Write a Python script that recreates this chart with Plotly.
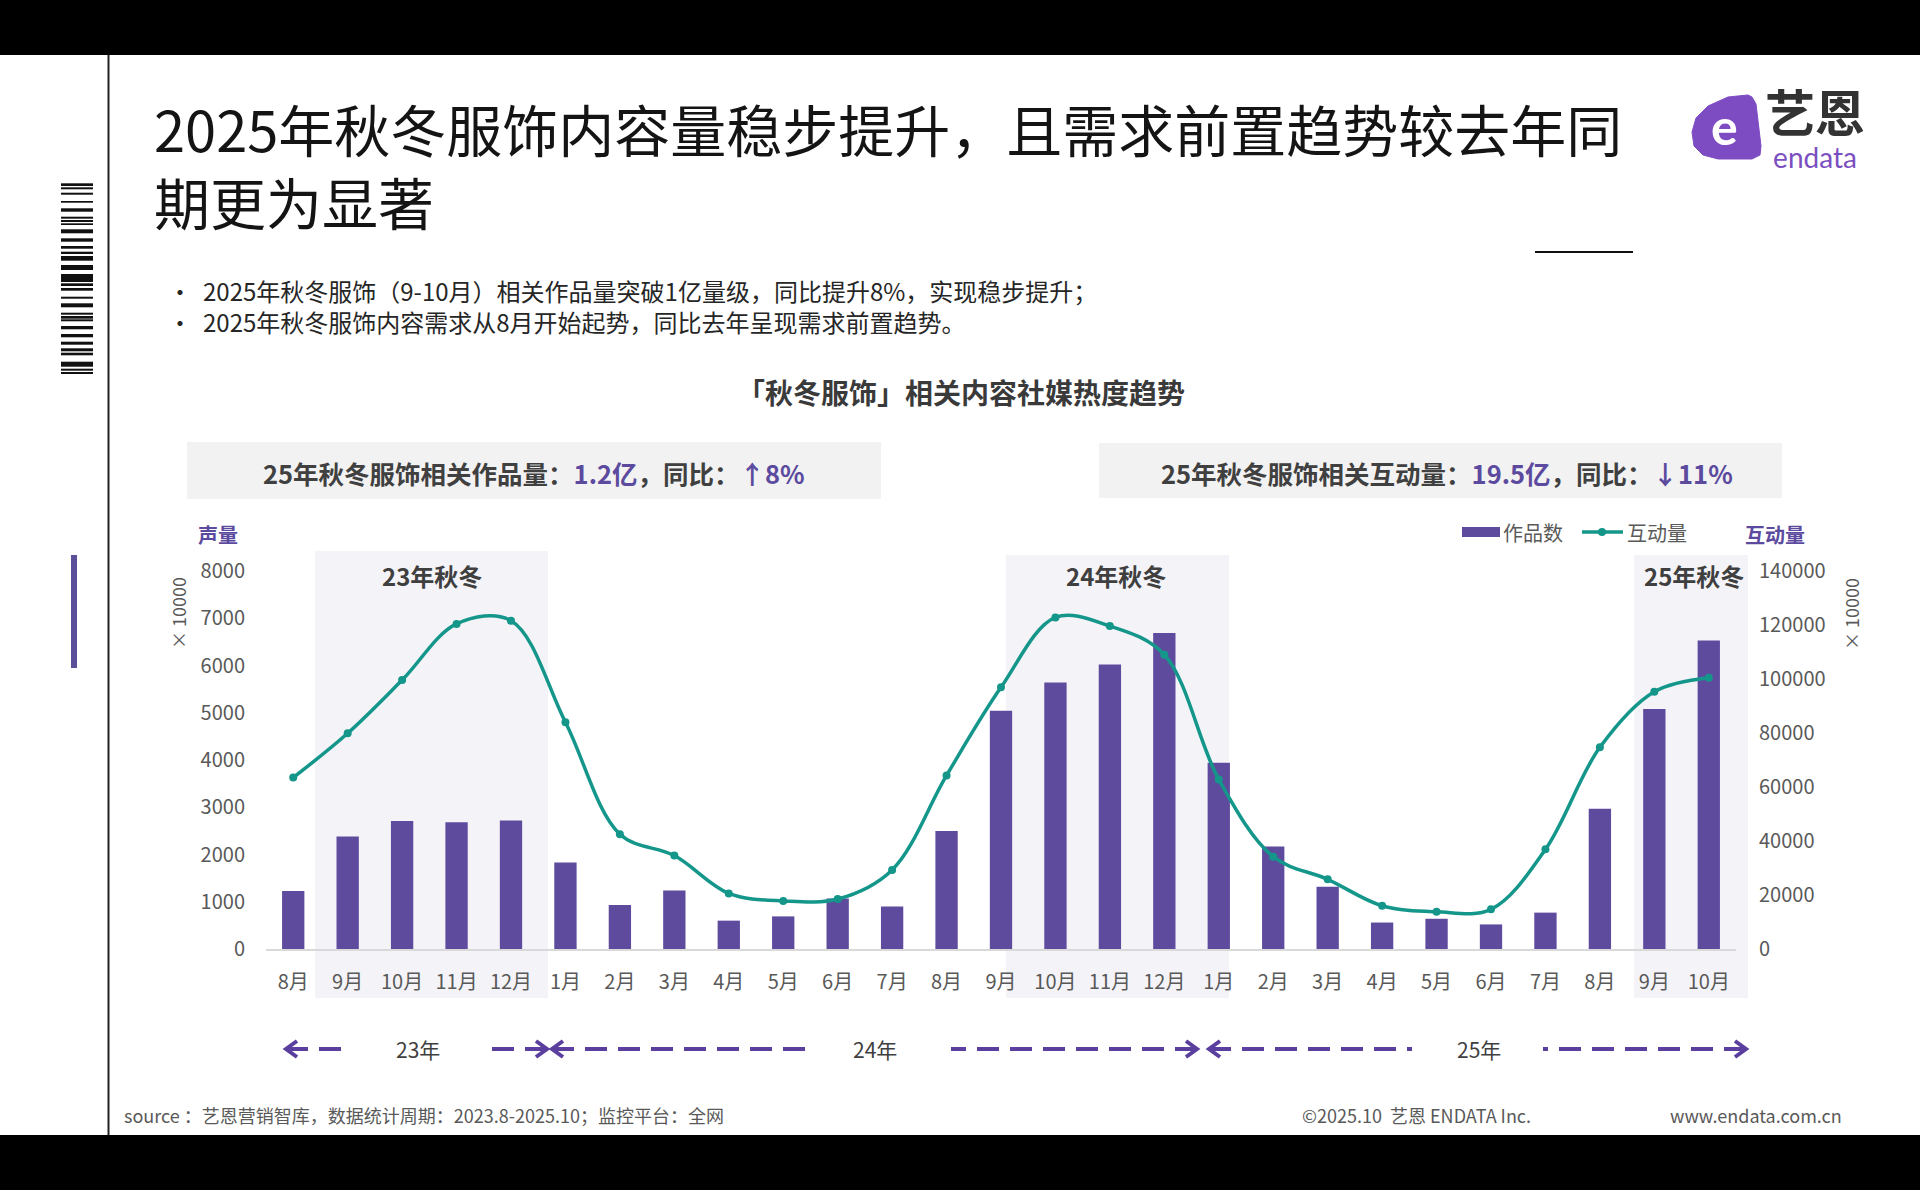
import plotly.graph_objects as go

# ---------------- data ----------------
months = ["8月", "9月", "10月", "11月", "12月", "1月", "2月", "3月", "4月", "5月", "6月", "7月",
          "8月", "9月", "10月", "11月", "12月", "1月", "2月", "3月", "4月", "5月", "6月", "7月",
          "8月", "9月", "10月"]
works = [1230, 2380, 2710, 2680, 2720, 1830, 930, 1240, 600, 690, 1070, 900,
         2500, 5040, 5640, 6020, 6690, 3940, 2170, 1320, 560, 640, 520, 770,
         2970, 5080, 6530]
interactions = [63500, 79900, 99600, 120400, 121600, 84000, 42500, 34600, 20600, 17800, 18500, 29300,
                64300, 96900, 122800, 119600, 109000, 62800, 34200, 25800, 16000, 13800, 14700, 36900,
                74700, 95300, 100500]
left_ticks = [0, 1000, 2000, 3000, 4000, 5000, 6000, 7000, 8000]
right_ticks = [0, 20000, 40000, 60000, 80000, 100000, 120000, 140000]
season_labels = ["23年秋冬", "24年秋冬", "25年秋冬"]
year_labels = ["23年", "24年", "25年"]

FONT = "Noto Sans CJK SC"
BAR = "#5f4b9e"
LINE = "#14968a"
PURPLE = "#5b4a9e"
ARROW = "#5b3f9e"
GREY = "#595959"
DARK = "#3a3a3a"

W, H = 1920, 1190
L, R, T, B = 266, 1736, 571, 949  # plot area in pixels


def px(X):
    return (X - L) / (R - L)


def py(Y):
    return (B - Y) / (B - T)


annotations = []
shapes = []


def txt(X, Y, s, size, color, xanchor="center", angle=0, family=FONT, align="center"):
    annotations.append(dict(x=px(X), y=py(Y), xref="paper", yref="paper", text=s,
                            showarrow=False, xanchor=xanchor, yanchor="middle", align=align,
                            textangle=angle, borderpad=0,
                            font=dict(size=size, color=color, family=family)))


def rect(X0, Y0, X1, Y1, color, layer="below"):
    shapes.append(dict(type="rect", xref="paper", yref="paper", x0=px(X0), x1=px(X1),
                       y0=py(Y1), y1=py(Y0), fillcolor=color, line=dict(width=0), layer=layer))


def seg(X0, Y0, X1, Y1, color, width, dash="solid"):
    shapes.append(dict(type="line", xref="paper", yref="paper", x0=px(X0), x1=px(X1),
                       y0=py(Y0), y1=py(Y1), line=dict(color=color, width=width, dash=dash),
                       layer="above"))


def path(points, color, width, fill=None, closed=False):
    d = "M " + " L ".join(f"{px(x):.5f},{py(y):.5f}" for x, y in points)
    if closed:
        d += " Z"
    shapes.append(dict(type="path", xref="paper", yref="paper", path=d,
                       line=dict(color=color, width=width),
                       fillcolor=fill if fill else "rgba(0,0,0,0)", layer="above"))


# ---------------- page decoration ----------------
rect(0, 0, W, 55, "#000000", layer="above")
rect(0, 1135, W, H, "#000000", layer="above")
seg(108.5, 55, 108.5, 1135, "#222222", 2)
rect(71, 555, 77, 668, "#5b4f9a", layer="above")
barcode = [(183.3, 186), (187.3, 189.3), (192.7, 194.7), (201, 202.7), (208.3, 211.7),
           (216.7, 218.7), (220, 222), (223.3, 225), (229.3, 233.3), (238.3, 241.7),
           (246, 248.7), (251.7, 254), (256, 260.7), (265, 270), (274, 282), (283.3, 286),
           (288, 290.7), (296.7, 298.7), (303.3, 307.3), (312.7, 314.7), (316, 318.7),
           (319.3, 321.3), (326, 329.3), (334, 337.3), (341.7, 344.7), (348.3, 351.3),
           (352.7, 355.3), (361.7, 366.7), (368.7, 370.7), (372, 374)]
for y0, y1 in barcode:
    rect(61, y0, 93, y1, "#111111", layer="above")

# title (two lines in one text block)
txt(153, 164, "2025年秋冬服饰内容量稳步提升，且需求前置趋势较去年同<br>期更为显著", 56, "#141414",
    xanchor="left", align="left")
seg(1535, 252, 1633, 252, "#111111", 2)

# logo
blob = [(1748, 95), (1728, 97), (1708, 106), (1696, 118), (1692, 132), (1694, 146), (1703, 155),
        (1718, 159), (1752, 159), (1760, 155), (1761, 146), (1756, 104), (1752, 97)]
path(blob, "#7e4cc2", 1, fill="#7e4cc2", closed=True)
txt(1724, 126, "<b>e</b>", 50, "#ffffff", family="Lato")
txt(1815, 124, "<span style='font-size:50px;color:#333333'><b>艺恩</b></span><br>"
    "<span style='font-family:Lato;color:#7b4fc0'>endata</span>", 28, "#7b4fc0")

# bullets
txt(180, 306, "•<br>•", 24, "#262626")
txt(202, 306, "2025年秋冬服饰（9-10月）相关作品量突破1亿量级，同比提升8%，实现稳步提升；<br>"
    "2025年秋冬服饰内容需求从8月开始起势，同比去年呈现需求前置趋势。", 24, "#262626",
    xanchor="left", align="left")

# chart title
txt(961, 392, "<b>「秋冬服饰」相关内容社媒热度趋势</b>", 28, DARK)

# KPI boxes
rect(187, 442, 881, 499, "#f2f2f2")
rect(1099, 443, 1782, 498, "#f2f2f2")
txt(534, 472, f"<b>25年秋冬服饰相关作品量：<span style='color:{PURPLE}'>1.2亿</span>，同比：<span style='color:{PURPLE}'>↑8%</span></b>", 25.5, "#404040")
txt(1447, 472, f"<b>25年秋冬服饰相关互动量：<span style='color:{PURPLE}'>19.5亿</span>，同比：<span style='color:{PURPLE}'>↓11%</span></b>", 25.5, "#404040")

# season shading
SHADE = "#f4f4f8"
rect(315, 551, 548, 998, SHADE)
rect(1006, 555, 1229, 998, SHADE)
rect(1634, 555, 1748, 998, SHADE)
for (X, s) in zip([432, 1116, 1694], season_labels):
    txt(X, 575, f"<b>{s}</b>", 24, "#3f3f3f")

# axis titles
txt(218, 534, "<b>声量</b>", 20, PURPLE)
txt(1775, 534, "<b>互动量</b>", 20, PURPLE)
txt(178, 613, "× 10000", 18, GREY, angle=-90)
txt(1851, 614, "× 10000", 18, GREY, angle=-90)

# legend (manual)
rect(1462, 527, 1500, 537, BAR, layer="above")
txt(1502, 532, "作品数", 20, GREY, xanchor="left")
seg(1582, 532, 1623, 532, LINE, 3.5)
shapes.append(dict(type="circle", xref="paper", yref="paper", x0=px(1598), x1=px(1606),
                   y0=py(536), y1=py(528), fillcolor=LINE, line=dict(width=0), layer="above"))
txt(1626, 532, "互动量", 20, GREY, xanchor="left")

# year arrows
AY = 1049


def head(Xtip, direction):
    d = 11 * direction
    path([(Xtip + d, AY - 8), (Xtip, AY), (Xtip + d, AY + 8)], ARROW, 4)


for a, b in [(286, 350), (552, 805), (1209, 1412)]:
    seg(a, AY, b, AY, ARROW, 4, dash="22px,11px")
    head(a, 1)
for tip, b in [(547, 485), (1197, 951), (1746, 1543)]:
    seg(tip, AY, b, AY, ARROW, 4, dash="22px,11px")
    head(tip, -1)
for X, s in zip([418, 875, 1479], year_labels):
    txt(X, AY, s, 21, "#404040")

# footer
txt(123, 1115, "source ：艺恩营销智库，数据统计周期：2023.8-2025.10；监控平台：全网", 18, GREY, xanchor="left")
txt(1301, 1115, "©2025.10  艺恩 ENDATA Inc.", 18, GREY, xanchor="left")
txt(1669, 1115, "www.endata.com.cn", 18, GREY, xanchor="left")

# ---------------- traces ----------------
xs = list(range(len(months)))
fig = go.Figure()
fig.add_trace(go.Bar(x=xs, y=works, width=0.41, marker=dict(color=BAR, line=dict(width=0)),
                     name="作品数", showlegend=False))
fig.add_trace(go.Scatter(x=xs, y=interactions, yaxis="y2", mode="lines+markers",
                         line=dict(color=LINE, width=3.5, shape="spline", smoothing=1.0),
                         marker=dict(size=8, color=LINE), name="互动量", showlegend=False))

fig.update_layout(
    width=W, height=H,
    margin=dict(l=L, r=W - R, t=T, b=H - B, pad=0),
    paper_bgcolor="#ffffff", plot_bgcolor="rgba(0,0,0,0)",
    font=dict(family=FONT, color=GREY),
    showlegend=False,
    xaxis=dict(range=[-0.5, 26.5], tickmode="array", tickvals=xs, ticktext=months,
               showgrid=False, zeroline=False, showline=True, linecolor="#d9d9d9", linewidth=2,
               ticks="", tickfont=dict(size=20, color=GREY), ticklabelstandoff=14),
    yaxis=dict(range=[0, 8000], tickmode="array", tickvals=left_ticks,
               ticktext=[str(v) for v in left_ticks],
               showgrid=False, zeroline=False, showline=False, ticks="",
               tickfont=dict(size=20, color=GREY), ticklabelstandoff=20),
    yaxis2=dict(range=[0, 140000], tickmode="array", tickvals=right_ticks,
                ticktext=[str(v) for v in right_ticks], overlaying="y",
                side="right", showgrid=False, zeroline=False, showline=False, ticks="",
                tickfont=dict(size=20, color=GREY), ticklabelstandoff=22),
    annotations=annotations,
    shapes=shapes,
)

fig.write_html("out.html")
